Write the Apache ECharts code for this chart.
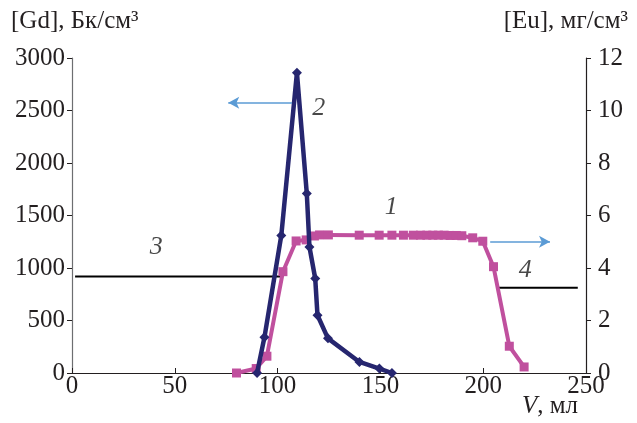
<!DOCTYPE html>
<html><head><meta charset="utf-8">
<script src="https://cdn.jsdelivr.net/npm/echarts@6/dist/echarts.min.js"></script>
<style>html,body{margin:0;padding:0;background:#fff}#c{width:637px;height:423px}</style>
</head><body><div id="c"></div>
<script>
// Curve 2: [Gd], Bq/cm3 (left axis)
const vGd = [90, 93.6, 101.8, 109.4, 114.2, 115.5, 118.3, 119.4, 124.5, 139.8, 149.5, 155.6];
const gd  = [0, 340, 1310, 2860, 1710, 1200, 900, 550, 330, 105, 42, 0];
// Curve 1: [Eu], mg/cm3 (right axis)
const vEu = [80, 89.6, 94.8, 102.6, 109, 113.9, 117.9, 120.4, 124.7, 139.7, 149.4, 155.6, 161.2, 166, 169.5, 172.6, 175.5, 178.2, 181, 183.9, 186.9, 189.6, 194.9, 199.8, 205, 212.7, 219.9];
const eu  = [0, 0.17, 0.64, 3.86, 5.03, 5.07, 5.22, 5.26, 5.26, 5.25, 5.25, 5.25, 5.25, 5.25, 5.25, 5.25, 5.25, 5.25, 5.25, 5.24, 5.24, 5.23, 5.15, 5.02, 4.05, 1.02, 0.23];
// Horizontal reference lines
const line3V = [1.5, 101.5], line3Y = [920, 920];
const line4V = [207, 246], line4Y = [3.25, 3.25];
// Arrows (from, to)
const arrowLeft  = [[107, 2575], [76, 2575]];
const arrowRight = [[203.4, 5.0], [232.5, 5.0]];
// Curve number labels
const labelsLeft  = [["2", 120, 2523], ["1", 155.3, 1581], ["3", 41, 1199]];
const labelsRight = [["4", 220.4, 3.92]];
// Axis ticks
const xTicks = {min: 0, max: 250, interval: 50};
const yLeftTicks = {min: 0, max: 3000, interval: 500};
const yRightTicks = {min: 0, max: 12, interval: 2};

const zip = (a, b) => a.map((x, i) => [x, b[i]]);
const FONT = 'Liberation Serif';
const FS = 25;
const axisLbl = {fontFamily: FONT, fontSize: FS, color: '#231f20', formatter: v => String(v)};
const numLbl = {show: true, position: 'inside', formatter: p => p.name,
  fontFamily: FONT, fontStyle: 'italic', fontSize: 26, color: '#1a1a1a'};
const chart = echarts.init(document.getElementById('c'), null, {renderer: 'canvas'});
chart.setOption({
  animation: false,
  backgroundColor: '#fff',
  textStyle: {fontFamily: FONT},
  grid: {left: 72, right: 51, top: 58, bottom: 50},
  xAxis: {
    type: 'value', ...xTicks,
    axisLine: {show: true, lineStyle: {color: '#231f20', width: 1.2}},
    axisTick: {show: true, inside: true, length: 5, lineStyle: {color: '#231f20'}},
    axisLabel: {...axisLbl, margin: 1},
    splitLine: {show: false}
  },
  yAxis: [{
    type: 'value', position: 'left', ...yLeftTicks,
    axisLine: {show: true, lineStyle: {color: '#6d6e71', width: 1.2}},
    axisTick: {show: true, length: 5, lineStyle: {color: '#231f20'}},
    axisLabel: {...axisLbl, margin: 7},
    splitLine: {show: false}
  }, {
    type: 'value', position: 'right', ...yRightTicks,
    axisLine: {show: true, lineStyle: {color: '#231f20', width: 1.2}},
    axisTick: {show: true, length: 5, lineStyle: {color: '#231f20'}},
    axisLabel: {...axisLbl, margin: 12},
    splitLine: {show: false}
  }],
  graphic: [
    {type: 'text', left: 11, top: 9, style: {text: '[Gd], Бк/см³', font: '25px "Liberation Serif"', fill: '#231f20'}},
    {type: 'text', right: 9, top: 9, style: {text: '[Eu], мг/см³', font: '25px "Liberation Serif"', fill: '#231f20'}},
    {type: 'text', left: 522, top: 394, style: {text: '{i|V}{r|, мл}',
      rich: {i: {font: 'italic 25px "Liberation Serif"', fill: '#231f20'}, r: {font: '25px "Liberation Serif"', fill: '#231f20'}},
      font: '25px "Liberation Serif"', fill: '#231f20'}}
  ],
  series: [
    {type: 'line', name: 'Eu', yAxisIndex: 1, data: zip(vEu, eu), symbol: 'rect', symbolSize: 9,
     itemStyle: {color: '#c0509e'}, lineStyle: {color: '#c0509e', width: 4}, z: 3,
     markLine: {silent: true, symbol: ['none', 'arrow'], symbolSize: [9, 11],
       lineStyle: {color: '#5b9bd5', width: 1.5, type: 'solid'}, label: {show: false},
       data: [[{coord: arrowRight[0]}, {coord: arrowRight[1]}]]}},
    {type: 'line', name: 'Gd', yAxisIndex: 0, data: zip(vGd, gd), symbol: 'diamond', symbolSize: 10,
     itemStyle: {color: '#26266f'}, lineStyle: {color: '#26266f', width: 4.5}, z: 4,
     markLine: {silent: true, symbol: ['none', 'arrow'], symbolSize: [9, 11],
       lineStyle: {color: '#5b9bd5', width: 1.5, type: 'solid'}, label: {show: false},
       data: [[{coord: arrowLeft[0]}, {coord: arrowLeft[1]}]]}},
    {type: 'line', yAxisIndex: 0, data: zip(line3V, line3Y), symbol: 'none',
     lineStyle: {color: '#000', width: 2}, z: 2},
    {type: 'line', yAxisIndex: 1, data: zip(line4V, line4Y), symbol: 'none',
     lineStyle: {color: '#000', width: 2}, z: 2},
    {type: 'scatter', yAxisIndex: 0, symbolSize: 0, silent: true,
     data: labelsLeft.map(d => ({value: [d[1], d[2]], name: d[0]})), label: numLbl},
    {type: 'scatter', yAxisIndex: 1, symbolSize: 0, silent: true,
     data: labelsRight.map(d => ({value: [d[1], d[2]], name: d[0]})), label: numLbl}
  ]
});
</script></body></html>
